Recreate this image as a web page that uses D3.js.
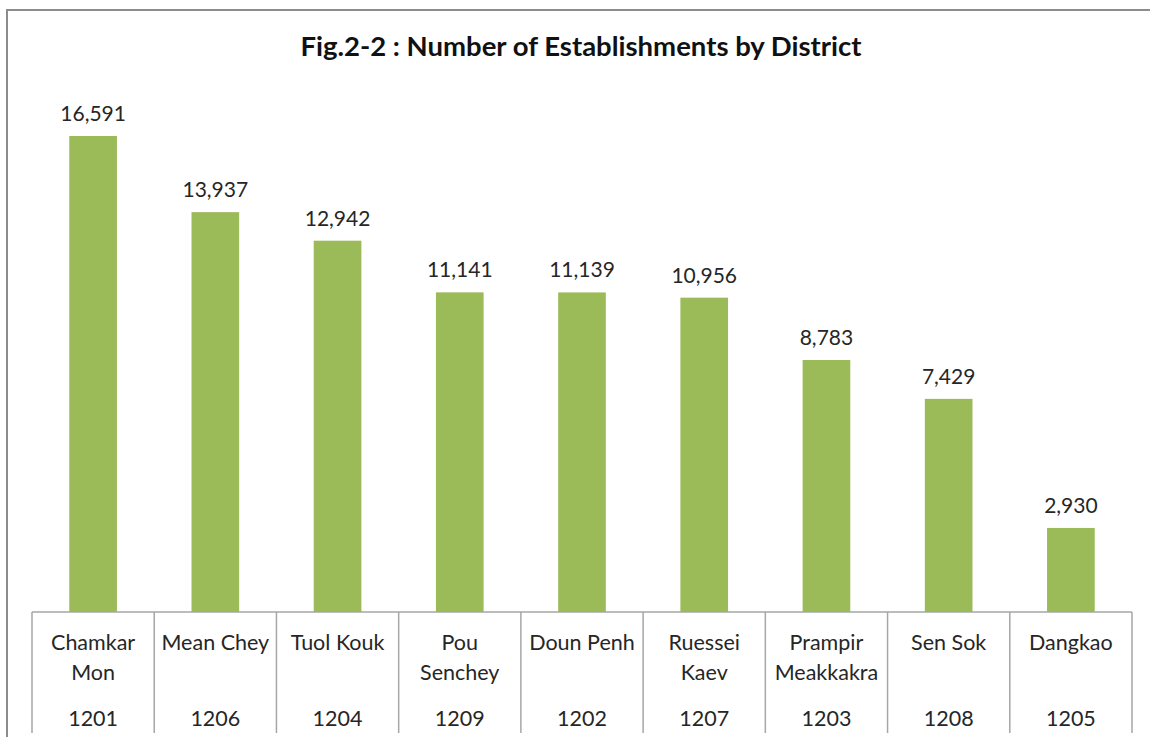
<!DOCTYPE html>
<html>
<head>
<meta charset="utf-8">
<script src="https://cdn.jsdelivr.net/npm/d3@7"></script>
<style>
  body { margin: 0; background: #fff; }
  text { font-family: Lato, "Open Sans", sans-serif; }
</style>
</head>
<body>
<div id="chart"></div>
<script>
// district names (line breaks as in the original) and codes
var districts = ["Chamkar\nMon", "Mean Chey", "Tuol Kouk", "Pou\nSenchey", "Doun Penh",
                 "Ruessei\nKaev", "Prampir\nMeakkakra", "Sen Sok", "Dangkao"];
var codes = ["1201", "1206", "1204", "1209", "1202", "1207", "1203", "1208", "1205"];
var establishments = [16591, 13937, 12942, 11141, 11139, 10956, 8783, 7429, 2930];

var width = 1150, height = 737;
var baseY = 612;

var svg = d3.select("#chart")
    .append("svg")
    .attr("width", width)
    .attr("height", height);

//outer frame
svg.append("rect")
    .attr("x", 7)
    .attr("y", 10)
    .attr("width", 1160)
    .attr("height", 760)
    .attr("fill", "none")
    .attr("stroke", "#8c8c8c")
    .attr("stroke-width", 2);

svg.append("text")
    .attr("x", 581)
    .attr("y", 56)
    .attr("text-anchor", "middle")
    .attr("font-size", 27.5)
    .attr("font-weight", "bold")
    .attr("fill", "#111")
    .text("Fig.2-2 : Number of Establishments by District");

var x = d3.scaleBand()
    .domain(codes)
    .range([32, 1132])
    .padding(0);

var y = d3.scaleLinear()
    .domain([0, 18000])
    .range([baseY, baseY - 18000 * 476 / 16591]);

var barW = x.bandwidth() * 0.39;

var data = codes.map(function(c, i) {
    return { code: c, name: districts[i], value: establishments[i] };
});

svg.selectAll("rect.bar")
    .data(data)
    .enter()
    .append("rect")
    .attr("class", "bar")
    .attr("x", function(d) { return x(d.code) + (x.bandwidth() - barW) / 2; })
    .attr("y", function(d) { return y(d.value); })
    .attr("width", barW)
    .attr("height", function(d) { return baseY - y(d.value); })
    .attr("fill", "#9bbb59");

svg.selectAll("text.val")
    .data(data)
    .enter()
    .append("text")
    .attr("class", "val")
    .attr("x", function(d) { return x(d.code) + x.bandwidth() / 2; })
    .attr("y", function(d) { return y(d.value) - 15; })
    .attr("text-anchor", "middle")
    .attr("font-size", 21)
    .attr("fill", "#262626")
    .text(function(d) { return d3.format(",")(d.value); });

//category axis: baseline + dividers
svg.append("line")
    .attr("x1", x.range()[0]).attr("x2", x.range()[1])
    .attr("y1", baseY).attr("y2", baseY)
    .attr("stroke", "#a6a6a6")
    .attr("stroke-width", 1.5);

var ticks = codes.map(function(c) { return x(c); }).concat([x.range()[1]]);
svg.selectAll("line.div")
    .data(ticks)
    .enter()
    .append("line")
    .attr("class", "div")
    .attr("x1", function(d) { return d; })
    .attr("x2", function(d) { return d; })
    .attr("y1", baseY)
    .attr("y2", 733)
    .attr("stroke", "#a6a6a6")
    .attr("stroke-width", 1.5);

var lab = svg.selectAll("text.cat")
    .data(data)
    .enter()
    .append("text")
    .attr("class", "cat")
    .attr("text-anchor", "middle")
    .attr("font-size", 21.5)
    .attr("fill", "#262626");

lab.selectAll("tspan")
    .data(function(d) {
        return d.name.split("\n").map(function(s) { return { s: s, cx: x(d.code) + x.bandwidth() / 2 }; });
    })
    .enter()
    .append("tspan")
    .attr("x", function(d) { return d.cx; })
    .attr("y", function(d, i) { return 650 + i * 30; })
    .text(function(d) { return d.s; });

svg.selectAll("text.code")
    .data(data)
    .enter()
    .append("text")
    .attr("class", "code")
    .attr("x", function(d) { return x(d.code) + x.bandwidth() / 2; })
    .attr("y", 726)
    .attr("text-anchor", "middle")
    .attr("font-size", 21.5)
    .attr("fill", "#262626")
    .text(function(d) { return d.code; });
</script>
</body>
</html>
